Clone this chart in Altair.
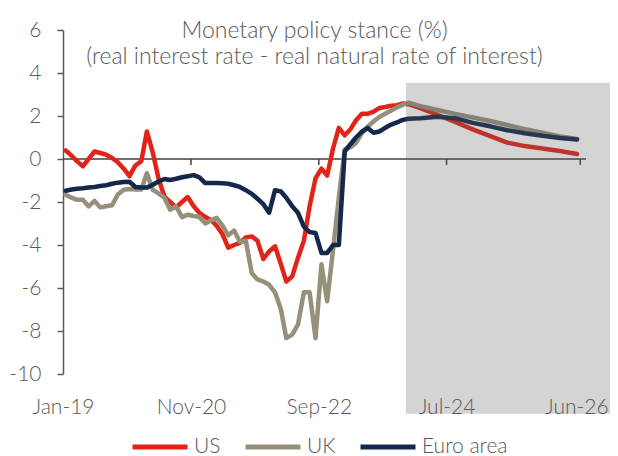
import altair as alt
import pandas as pd

# ---- data ----
series_names = ["US", "UK", "Euro area"]
series_colors = ["#E2231A", "#968F7A", "#14284B"]

# month offsets from Jan-2019 (dated mid-month)
hist_months = list(range(60))
fcst_months = [61, 64, 67, 70, 73, 76, 79, 82, 85, 88]

us_hist = [0.4, 0.15, -0.1, -0.34, 0.0, 0.35, 0.28, 0.2, 0.05, -0.15,
           -0.45, -0.8, -0.3, -0.1, 1.28, 0.3, -0.9, -1.75, -2.0, -2.25,
           -2.0, -1.77, -2.2, -2.5, -2.7, -2.85, -3.1, -3.5, -4.12, -4.0,
           -3.9, -3.65, -3.6, -3.8, -4.65, -4.3, -4.06, -4.9, -5.7, -5.46,
           -4.6, -3.8, -2.2, -0.9, -0.45, -0.77, 0.5, 1.45, 1.1, 1.4,
           1.8, 2.1, 2.1, 2.2, 2.37, 2.42, 2.48, 2.5, 2.58, 2.55]
us_fcst = [2.37, 2.05, 1.72, 1.38, 1.06, 0.76, 0.6, 0.49, 0.37, 0.23]

uk_hist = [-1.66, -1.8, -1.9, -1.9, -2.2, -1.95, -2.25, -2.2, -2.15, -1.65,
           -1.43, -1.4, -1.42, -1.42, -0.66, -1.43, -1.6, -1.8, -2.36, -2.2,
           -2.7, -2.59, -2.65, -2.7, -3.0, -2.85, -2.74, -3.1, -3.55, -3.33,
           -3.85, -3.8, -5.3, -5.6, -5.7, -5.85, -6.2, -7.0, -8.33, -8.17,
           -7.7, -6.2, -6.2, -8.33, -4.9, -6.62, -4.2, -1.8, 0.45, 0.55,
           0.75, 1.2, 1.5, 1.75, 1.95, 2.1, 2.25, 2.4, 2.52, 2.62]
uk_fcst = [2.46, 2.28, 2.1, 1.93, 1.77, 1.58, 1.39, 1.22, 1.05, 0.93]

ea_hist = [-1.48, -1.42, -1.38, -1.36, -1.33, -1.3, -1.26, -1.22, -1.15, -1.1,
           -1.07, -1.06, -1.3, -1.33, -1.33, -1.2, -1.05, -0.93, -0.98, -0.92,
           -0.85, -0.8, -0.75, -0.85, -1.12, -1.12, -1.12, -1.13, -1.15, -1.22,
           -1.3, -1.45, -1.62, -1.85, -2.1, -2.5, -1.45, -1.51, -1.8, -2.2,
           -2.5, -3.15, -3.4, -3.44, -4.37, -4.37, -4.0, -4.0, 0.35, 0.7,
           1.0, 1.28, 1.44, 1.22, 1.28, 1.45, 1.6, 1.7, 1.82, 1.87]
ea_fcst = [1.9, 1.97, 1.9, 1.68, 1.52, 1.34, 1.2, 1.08, 0.98, 0.91]

tick_dates = ["2019-01-01", "2020-11-01", "2022-09-01", "2024-07-01", "2026-06-01"]
x_domain = ["2019-01-01", "2026-07-01"]
y_ticks = [6, 4, 2, 0, -2, -4, -6, -8, -10]

# forecast shading
shade_start, shade_end = "2023-12-01", "2026-12-16"
shade_top, shade_bottom = 3.55, -11.85

# ---- build table ----
months = hist_months + fcst_months
base = pd.Timestamp("2019-01-15")
rows = []
for name, h, f in [("US", us_hist, us_fcst), ("UK", uk_hist, uk_fcst),
                   ("Euro area", ea_hist, ea_fcst)]:
    for m, v in zip(months, h + f):
        rows.append({"date": (base + pd.DateOffset(months=m)).strftime("%Y-%m-%d"),
                     "series": name, "value": v, "order": series_names.index(name)})
df = pd.DataFrame(rows)

FONT = "Lato"
GREY = "#595959"

xscale = alt.Scale(domain=x_domain, nice=False)
yscale = alt.Scale(domain=[-10, 6], nice=False)

lines = alt.Chart(df).mark_line(strokeWidth=4.5, strokeCap="round", strokeJoin="round").encode(
    x=alt.X("date:T", scale=xscale,
            axis=alt.Axis(values=tick_dates, format="%b-%y", title=None, grid=False,
                          domain=False, ticks=False, labelPadding=39,
                          labelBaseline="alphabetic", labelFlush=False,
                          labelOffset={"condition": {"test": "time(datum.value) > time('2026-01-01')",
                                                     "value": -4}, "value": 0})),
    y=alt.Y("value:Q", scale=yscale,
            axis=alt.Axis(values=y_ticks, title=None, grid=False, tickSize=6,
                          labelPadding=16, domainColor=GREY, tickColor=GREY,
                          domainWidth=1.5, tickWidth=1.5,
                          labelExpr="datum.value < 0 ? '-' + abs(datum.value) : '' + datum.value")),
    color=alt.Color("series:N", sort=series_names,
                    scale=alt.Scale(domain=series_names, range=series_colors),
                    legend=alt.Legend(title=None, orient="none", direction="horizontal",
                                      legendX=67, legendY=387, symbolType="stroke",
                                      symbolSize=3025, symbolStrokeWidth=5,
                                      labelOffset=4, columnPadding=14)),
    order=alt.Order("order:Q"),
)

zero = alt.Chart(pd.DataFrame({"y": [0]})).mark_rule(color="#404040", strokeWidth=1.5).encode(
    y=alt.Y("y:Q", scale=yscale))

ticks = alt.Chart(pd.DataFrame({"d": tick_dates[1:]})).mark_rule(color="#404040", strokeWidth=1.5).encode(
    x=alt.X("d:T", scale=xscale),
    y=alt.datum(0),
    y2=alt.datum(-0.28),
)

shade = alt.Chart(pd.DataFrame({"s": [shade_start], "e": [shade_end],
                                "t": [shade_top], "b": [shade_bottom]})).mark_rect(
    color="#606060", opacity=0.27).encode(
    x=alt.X("s:T", scale=xscale), x2="e:T",
    y=alt.Y("t:Q", scale=yscale), y2="b:Q")

chart = alt.layer(zero, ticks, lines, shade).properties(
    width=523, height=344,
    padding={"left": 55, "top": 22, "right": 24, "bottom": 82},
    autosize=alt.AutoSizeParams(type="none"),
    title=alt.TitleParams(
        text=["Monetary policy stance (%)",
              "(real interest rate - real natural rate of interest)"],
        font=FONT, fontSize=23, fontWeight=300, color=GREY, anchor="middle",
        frame="group", offset=-50, lineHeight=26, dx=-10),
).configure_view(stroke=None).configure_axis(
    labelFont=FONT, labelFontSize=21, labelFontWeight=300, labelColor=GREY,
).configure_legend(
    labelFont=FONT, labelFontSize=21, labelFontWeight=300, labelColor=GREY,
)

chart.save("out.html", embed_options={"renderer": "svg", "actions": False})
